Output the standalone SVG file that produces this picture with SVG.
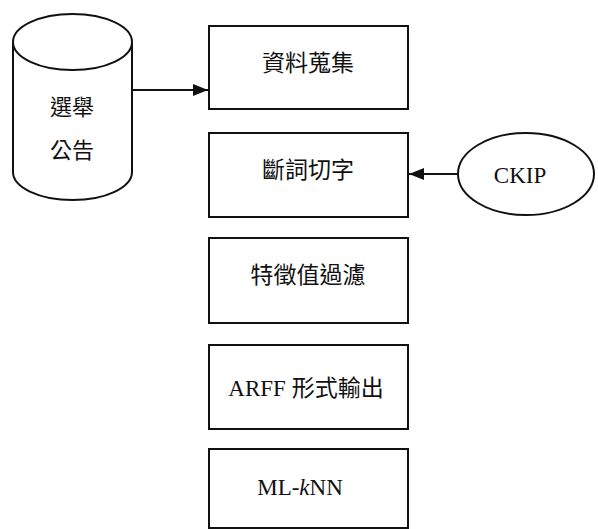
<svg xmlns="http://www.w3.org/2000/svg" width="598" height="529" viewBox="0 0 598 529">
<style>
.box{fill:#fff;stroke:#111;stroke-width:2}
.shape{fill:#fff;stroke:#111;stroke-width:2}
.cjk{font-family:"Liberation Serif","Noto Sans CJK TC",serif;font-size:23px;fill:#111;text-anchor:middle;dominant-baseline:central}
.sans{font-family:"Noto Sans CJK TC",sans-serif;font-size:22px;fill:#111;text-anchor:middle;dominant-baseline:central}
.edge{stroke:#111;stroke-width:2;fill:none}
</style>
<defs>
<marker id="arr" markerWidth="15" markerHeight="12" refX="15" refY="6" orient="auto" markerUnits="userSpaceOnUse">
<path d="M0,0 L15,6 L0,12 Z" fill="#111"/>
</marker>
</defs>
<rect width="598" height="529" fill="#fff"/>
<g id="edges">
<line class="edge" x1="132" y1="90" x2="208" y2="90" marker-end="url(#arr)"/>
<line class="edge" x1="458" y1="174" x2="409" y2="174" marker-end="url(#arr)"/>
</g>
<g id="db">
<path class="shape" d="M13,42 L13,172 A59.5,28 0 0 0 132,172 L132,42"/>
<ellipse class="shape" cx="72.5" cy="42" rx="59.5" ry="28"/>
<text class="sans" x="72" y="105">選舉</text>
<text class="sans" x="72" y="148">公告</text>
</g>
<g id="n1">
<rect class="box" x="209" y="26" width="199" height="83"/>
<text class="cjk" x="308" y="63">資料蒐集</text>
</g>
<g id="n2">
<rect class="box" x="209" y="133" width="199" height="84"/>
<text class="cjk" x="308" y="170">斷詞切字</text>
</g>
<g id="n3">
<rect class="box" x="209" y="238" width="199" height="85"/>
<text class="cjk" x="308" y="275">特徵值過濾</text>
</g>
<g id="n4">
<rect class="box" x="209" y="345" width="199" height="84"/>
<text class="cjk" x="306" y="388" font-size="24">ARFF 形式輸出</text>
</g>
<g id="n5">
<rect class="box" x="209" y="449" width="199" height="79"/>
<text class="cjk" x="300" y="487">ML-<tspan font-style="italic">k</tspan>NN</text>
</g>
<g id="ckip">
<ellipse class="shape" cx="526" cy="174" rx="68" ry="41"/>
<text class="cjk" x="520" y="175">CKIP</text>
</g>
</svg>
